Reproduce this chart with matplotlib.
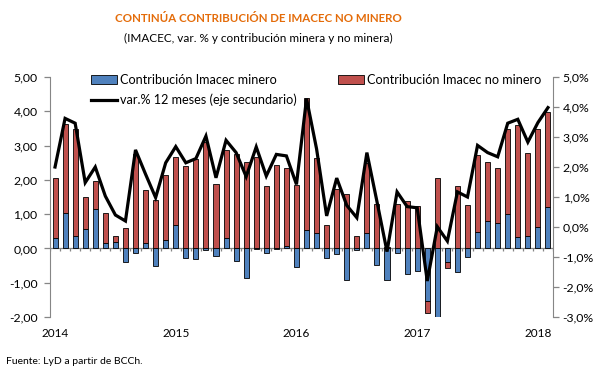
import matplotlib
matplotlib.use("Agg")
import matplotlib.pyplot as plt
import numpy as np
from matplotlib.patches import Patch
from matplotlib.lines import Line2D

plt.rcParams["font.family"] = ["Lato", "DejaVu Sans"]

# Monthly data, Jan 2014 - Feb 2018
minero = [0.29, 1.03, 0.36, 0.56, 1.15, 0.15, 0.18, -0.41, -0.12, 0.15, -0.50, 0.24,
          0.69, -0.29, -0.32, -0.06, -0.23, 0.31, -0.38, -0.85, -0.03, -0.12, -0.03, 0.07,
          -0.53, 0.53, 0.44, -0.29, -0.15, -0.91, -0.06, 0.44, -0.49, -0.93, -0.12, -0.75,
          -0.67, -1.52, -2.03, -0.41, -0.68, -0.26, 0.49, 0.79, 0.74, 1.00, 0.32, 0.35,
          0.62, 1.21]
no_minero = [1.75, 2.59, 3.12, 0.95, 0.82, 0.88, 0.18, 0.59, 2.75, 1.56, 1.41, 1.91,
             1.99, 2.41, 2.60, 3.09, 1.88, 2.56, 2.74, 2.53, 2.68, 1.83, 2.44, 2.28,
             1.85, 3.85, 2.21, 0.68, 1.74, 1.59, 0.36, 2.06, 1.29, 0.03, 1.29, 1.39,
             1.25, -0.36, 2.04, -0.15, 1.82, 1.26, 2.23, 1.74, 1.61, 2.47, 3.28, 2.44,
             2.85, 2.76]
var_12m = [2.00, 3.62, 3.46, 1.48, 2.00, 1.03, 0.40, 0.20, 2.57, 1.76, 0.98, 2.14,
           2.68, 2.14, 2.28, 3.03, 1.64, 2.89, 2.48, 1.68, 2.67, 1.70, 2.42, 2.37,
           1.42, 4.28, 2.60, 0.37, 1.63, 0.72, 0.31, 2.48, 0.85, -0.82, 1.17, 0.68,
           0.64, -1.80, 0.01, -0.47, 1.17, 1.00, 2.72, 2.48, 2.34, 3.46, 3.59, 2.83,
           3.48, 3.98]
years = ["2014", "2015", "2016", "2017", "2018"]

blue = "#4F81BD"
red = "#C0504D"
grey = "#868686"

minero = np.array(minero)
no_minero = np.array(no_minero)
x = np.arange(len(minero))

# Excel-style stacking: positives and negatives stacked separately
red_bottom = np.where(no_minero >= 0, np.maximum(minero, 0), np.minimum(minero, 0))

fig = plt.figure(figsize=(6.09, 3.74), dpi=100)
ax = fig.add_axes([50 / 609, 1 - 317 / 374, 503 / 609, 240 / 374])
ax2 = ax.twinx()

ax.bar(x, minero, width=0.5, color=blue, edgecolor="black", linewidth=0.6, zorder=3)
ax.bar(x, no_minero, width=0.5, bottom=red_bottom, color=red, edgecolor="black",
       linewidth=0.6, zorder=3)
ax2.plot(x, var_12m, color="black", linewidth=2.3, solid_joinstyle="miter")

# category axis at zero with ticks between months
ax.axhline(0, color=grey, linewidth=0.9, zorder=2)
ax.vlines(np.arange(-0.5, len(x)), -0.08, 0, color=grey, linewidth=0.9, zorder=2)

ax.set_xlim(-0.5, len(x) - 0.5)
ax.set_ylim(-2, 5)
ax2.set_ylim(-3, 5)

ax.set_yticks(np.arange(-2, 6))
ax.set_yticklabels([f"{v:.2f}".replace(".", ",") for v in np.arange(-2, 6)])
ax2.set_yticks(np.arange(-3, 6))
ax2.set_yticklabels([f"{v:.1f}%".replace(".", ",") for v in np.arange(-3, 6)])

ax.set_xticks([12 * i for i in range(len(years))])
ax.set_xticklabels(years)

for a in (ax, ax2):
    for s in ("top", "bottom"):
        a.spines[s].set_visible(False)
    a.spines["left"].set_color(grey)
    a.spines["right"].set_color(grey)
    a.tick_params(axis="y", colors=grey, labelcolor="black", labelsize=8.8, length=4,
                  width=0.9)
ax.spines["right"].set_visible(False)
ax2.spines["left"].set_visible(False)
ax.tick_params(axis="x", length=0, labelsize=8.5, pad=8)
ax.tick_params(axis="y", pad=5)
ax2.tick_params(axis="y", pad=3)

# legend
h_blue = Patch(facecolor=blue, edgecolor="black", linewidth=0.6)
h_red = Patch(facecolor=red, edgecolor="black", linewidth=0.6)
h_line = Line2D([0], [0], color="black", linewidth=2.3)
fig.legend([h_blue, h_line],
           ["Contribución Imacec minero", "var.% 12 meses (eje secundario)"],
           loc="upper left", bbox_to_anchor=(85 / 609, 1 - 68 / 374), frameon=False,
           fontsize=9.1, handlelength=2.0, handletextpad=0.3, borderpad=0,
           labelspacing=0.6)
fig.legend([h_red], ["Contribución Imacec no minero"],
           loc="upper left", bbox_to_anchor=(332 / 609, 1 - 68 / 374), frameon=False,
           fontsize=9.1, handlelength=2.0, handletextpad=0.3, borderpad=0)

fig.text(258 / 609, 1 - 18 / 374, "CONTINÚA CONTRIBUCIÓN DE IMACEC NO MINERO",
         ha="center", va="center", color="#E46C0A", fontsize=8.3, fontweight="bold")
fig.text(258 / 609, 1 - 38 / 374, "(IMACEC, var. % y contribución minera y no minera)",
         ha="center", va="center", color="black", fontsize=8.5)
fig.text(6 / 609, 1 - 361 / 374, "Fuente: LyD a partir de BCCh.", ha="left",
         va="center", fontsize=7.5)

fig.savefig("out.png", dpi=100)
